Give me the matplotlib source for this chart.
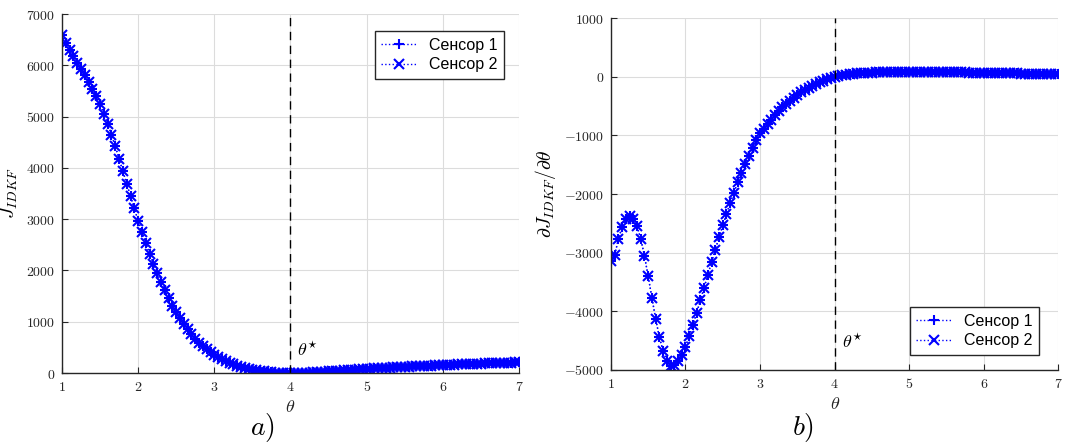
import numpy as np
import matplotlib
matplotlib.use('Agg')
import matplotlib.pyplot as plt
from matplotlib.ticker import FuncFormatter

plt.rcParams['mathtext.fontset'] = 'cm'

# theta grid, step 0.05
theta = np.round(np.arange(1.0, 7.0001, 0.05), 2)

# J_IDKF (a)
J = [6600, 6445, 6305, 6175, 6050, 5930, 5810, 5685, 5545, 5400,
     5240, 5060, 4860, 4650, 4420, 4180, 3935, 3690, 3450, 3210,
     2975, 2750, 2535, 2330, 2135, 1950, 1775, 1610, 1460, 1315,
     1185, 1065, 955, 852, 758, 672, 594, 524, 461, 405,
     355, 312, 272, 236, 203, 173, 146, 122, 101, 82,
     66, 52, 40, 30, 21, 14, 9, 5, 2, 1,
     0, 1, 2, 4, 6, 9, 12, 16, 20, 25,
     30, 35, 40, 45, 50, 56, 61, 66, 71, 76,
     81, 85, 89, 93, 97, 101, 105, 109, 113, 117,
     121, 125, 128, 132, 135, 139, 142, 146, 149, 152,
     155, 158, 161, 164, 167, 170, 173, 175, 178, 181,
     183, 186, 188, 191, 193, 196, 198, 200, 203, 205,
     207]

# dJ/dtheta (b)
dJ = [-3140, -3040, -2775, -2558, -2420, -2380, -2420, -2550, -2762, -3055,
      -3405, -3770, -4130, -4440, -4680, -4840, -4925, -4910, -4846, -4752,
      -4602, -4428, -4233, -4023, -3815, -3595, -3376, -3160, -2947, -2740,
      -2535, -2342, -2150, -1975, -1800, -1640, -1490, -1345, -1210, -1085,
      -966, -884, -807, -731, -659, -590, -523, -464, -409, -359,
      -313, -268, -227, -192, -159, -127, -97, -70, -45, -22,
      0, 14, 26, 36, 44, 51, 57, 62, 66, 70,
      73, 76, 79, 81, 83, 85, 86, 87, 88, 88,
      88, 88, 87, 87, 86, 85, 84, 83, 82, 81,
      80, 79, 78, 77, 76, 75, 73, 72, 71, 70,
      68, 67, 66, 65, 63, 62, 61, 60, 59, 58,
      56, 55, 54, 53, 52, 51, 50, 49, 48, 47,
      46]

theta_star = 4
sensors = ['Сенсор 1', 'Сенсор 2']
markers = ['+', 'x']

fig = plt.figure(figsize=(10.68, 4.43), dpi=100)
ax1 = fig.add_axes([0.058, 0.158, 0.428, 0.810])
ax2 = fig.add_axes([0.572, 0.165, 0.419, 0.794])

mfmt = FuncFormatter(lambda v, p: '$%d$' % v)

def style(ax):
    ax.grid(True, color='#dcdcdc', lw=0.8)
    ax.set_axisbelow(True)
    for s in ['top', 'right']:
        ax.spines[s].set_visible(False)
    for s in ['left', 'bottom']:
        ax.spines[s].set_color('#262626')
        ax.spines[s].set_linewidth(1.0)
    ax.tick_params(direction='in', length=4, labelsize=10, colors='#262626',
                   width=0.8, pad=5)
    ax.xaxis.set_major_formatter(mfmt)
    ax.yaxis.set_major_formatter(mfmt)
    ax.set_xlim(1, 7)
    ax.set_xlabel(r'$\theta$', fontsize=13, color='#262626', labelpad=3)

for ax, y in [(ax1, J), (ax2, dJ)]:
    for name, m in zip(sensors, markers):
        ax.plot(theta, y, ls=':', lw=1, color='blue', marker=m,
                markersize=6.5, mew=1.5, label=name)
    ax.axvline(theta_star, color='black', ls=(0, (6, 4)), lw=1)
    style(ax)

ax1.set_ylim(0, 7000)
ax1.set_yticks(range(0, 7001, 1000))
ax1.set_ylabel(r'$J_{IDKF}$', fontsize=14)
ax1.text(4.08, 250, r'$\theta^{\star}$', fontsize=13, va='bottom')

ax2.set_ylim(-5000, 1000)
ax2.set_yticks(range(-5000, 1001, 1000))
ax2.set_ylabel(r'$\partial J_{IDKF}/\partial\theta$', fontsize=14)
ax2.text(4.1, -4700, r'$\theta^{\star}$', fontsize=13, va='bottom')

fig.text(0.246, 0.034, r'$a)$', fontsize=20, ha='center', va='center')
fig.text(0.752, 0.034, r'$b)$', fontsize=20, ha='center', va='center')

leg_kw = dict(fancybox=False, edgecolor='#262626',
              framealpha=1, handlelength=2.2, borderpad=0.4,
              labelspacing=0.3, prop={'family': 'Liberation Sans', 'size': 11.5})
l1 = ax1.legend(loc='upper right', bbox_to_anchor=(0.985, 0.975), **leg_kw)
l2 = ax2.legend(loc='lower right', bbox_to_anchor=(0.975, 0.02), **leg_kw)
for l in (l1, l2):
    l.get_frame().set_linewidth(1.0)

fig.savefig('out.png', dpi=100)
